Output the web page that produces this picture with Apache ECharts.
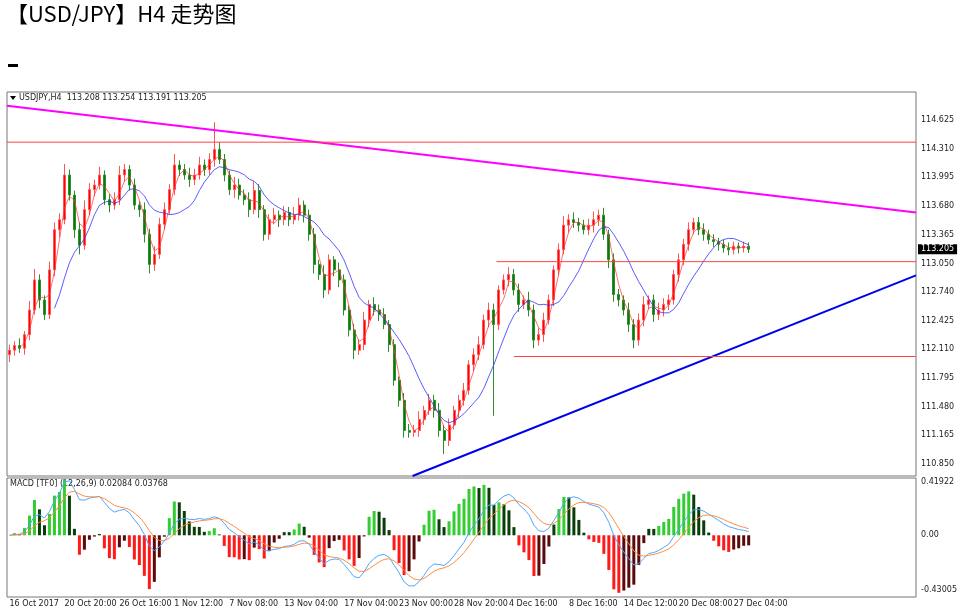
<!DOCTYPE html>
<html><head><meta charset="utf-8">
<script src="https://cdn.jsdelivr.net/npm/echarts@6/dist/echarts.min.js"></script>
<style>html,body{margin:0;padding:0;background:#fff}#c{width:962px;height:608px}</style>
</head><body><div id="c"></div>
<script>
const closes=[112.10,112.15,112.12,112.27,112.54,112.87,112.65,112.49,112.98,113.42,113.53,114.02,113.80,113.42,113.25,113.64,113.86,113.91,114.02,113.75,113.69,113.75,114.02,114.08,113.91,113.69,113.64,113.37,113.04,113.15,113.48,113.64,113.86,114.13,114.08,114.02,113.97,114.02,114.13,114.08,114.19,114.30,114.19,114.02,113.86,113.91,113.80,113.75,113.64,113.85,113.64,113.37,113.53,113.58,113.53,113.61,113.53,113.58,113.69,113.58,113.37,113.04,112.93,112.76,113.09,112.98,112.87,112.54,112.32,112.10,112.16,112.43,112.60,112.54,112.49,112.38,112.16,111.77,111.55,111.22,111.20,111.22,111.34,111.44,111.55,111.44,111.22,111.11,111.28,111.44,111.55,111.66,111.94,112.05,112.16,112.43,112.54,112.38,112.76,112.87,112.93,112.76,112.60,112.65,112.54,112.21,112.27,112.43,112.65,112.98,113.20,113.47,113.53,113.50,113.47,113.42,113.47,113.53,113.58,113.37,113.09,112.71,112.65,112.54,112.38,112.21,112.43,112.60,112.65,112.49,112.54,112.60,112.65,112.93,113.09,113.26,113.42,113.50,113.42,113.37,113.31,113.29,113.26,113.22,113.20,113.24,113.22,113.24,113.205];
const firstOpen=112.05;
const wickUp=[6,5,8,4,10,12,6,5,9,8,7,12,6,5,8,10,7,6,9,5,6,8,10,6,5,7,4,8,6,9,7,8,6,12,5,6,8,7,9,6,7,30,8,6,5,9,7,6,8,10,7,5,6,8,5,7,6,9,8,5,6,7,5,10,6,4,8,6,5,7,6,9,5,8,6,7,5,6,4,8,7,6,9,5,7,6,8,6,7,5,6,8,5,7,9,6,8,7,5,6,8,6,7,5,9,6,7,8,6,5,7,10,6,8,5,6,7,9,6,8,5,7,6,5,8,6,7,9,5,6,8,7,6,5,7,6,8,5,6,7,5,6,4,5,6,5,4,5,4];
const wickDn=[8,6,5,7,6,5,9,6,5,7,8,5,6,9,10,5,6,7,5,6,8,5,6,7,6,5,8,9,10,7,5,6,5,6,7,5,8,6,5,7,6,8,5,7,6,9,5,6,8,5,9,7,6,5,8,6,7,5,6,8,7,10,6,9,5,7,8,6,7,10,5,6,8,6,7,5,8,6,7,8,6,5,7,6,5,8,7,15,6,5,8,6,5,7,6,5,8,100,6,5,7,6,8,5,7,9,6,8,5,7,6,5,8,6,7,5,6,8,7,6,9,8,7,6,8,9,6,7,5,8,6,7,6,5,8,6,7,5,6,7,5,6,7,5,6,5,6,5,4];
const tickLabels=['16 Oct 2017','20 Oct 20:00','26 Oct 16:00','1 Nov 12:00','7 Nov 08:00','13 Nov 04:00','17 Nov 04:00','23 Nov 00:00','28 Nov 20:00','4 Dec 16:00','8 Dec 16:00','14 Dec 12:00','20 Dec 08:00','27 Dec 04:00'];
const tickIdx=[0,11,22,33,44,55,67,78,89,100,112,123,134,145];
const priceTicks=[110.850,111.165,111.480,111.795,112.110,112.425,112.740,113.050,113.365,113.680,113.995,114.310,114.625];
const magentaLine=[[-0.5,114.78],[181.5,113.61]];
const blueLine=[[80.7,110.72],[181.5,112.92]];
const redTop=[[-0.5,114.38],[181.5,114.38]];
const redMid=[[97.5,113.07],[181.5,113.07]];
const redLow=[[101,112.03],[181.5,112.03]];
const N=182;

const cats=[];for(let i=0;i<N;i++){const k=tickIdx.indexOf(i);cats.push(k>=0?tickLabels[k]:'');}
const ohlc=closes.map((c,i)=>{const o=i?closes[i-1]:firstOpen;return [o,c,Math.min(o,c)-(wickDn[i]||5)/100,Math.max(o,c)+(wickUp[i]||5)/100];});
function sma(a,p){return a.map((v,i)=>{if(i<p-1)return null;let s=0;for(let j=i-p+1;j<=i;j++)s+=a[j];return +(s/p).toFixed(4);});}
function ema(a,p){const k=2/(p+1);let e=a[0];return a.map(v=>(e=v*k+e*(1-k)));}
const e1=ema(closes,6),e2=ema(closes,13);
const dif=closes.map((v,i)=>e1[i]-e2[i]);
const dea=ema(dif,5);
const hist=dif.map((v,i)=>v-dea[i]);
const histData=hist.map((v,i)=>{const prev=i?hist[i-1]:0;const rising=Math.abs(v)>=Math.abs(prev);
 const col=v>=0?(rising?'#33cc33':'#0a3d0a'):(rising?'#ff1a1a':'#5a0a0a');return {value:+(v*3.5).toFixed(4),itemStyle:{color:col}};});

const ch=echarts.init(document.getElementById('c'));
const axisFont={fontFamily:'DejaVu Sans',fontSize:8,color:'#222'};
ch.setOption({
 animation:false,
 grid:[{left:7,right:46,top:92,height:384,show:true,borderColor:'#777',borderWidth:1},
       {left:7,right:46,top:478,height:119,show:true,borderColor:'#777',borderWidth:1}],
 xAxis:[
  {type:'category',gridIndex:0,data:cats,axisLine:{show:false},axisTick:{show:false},axisLabel:{show:false},splitLine:{show:false}},
  {type:'value',gridIndex:0,min:-0.5,max:181.5,show:false},
  {type:'category',gridIndex:1,data:cats,axisLine:{show:false},axisTick:{show:false},
   axisLabel:{interval:(i,v)=>v!=='',align:'left',margin:3,...axisFont},splitLine:{show:false}}
 ],
 yAxis:[
  {type:'value',gridIndex:0,position:'right',min:110.72,max:114.93,splitLine:{show:false},axisLine:{show:false},
   axisTick:{show:false},
   axisLabel:{customValues:priceTicks,formatter:v=>v.toFixed(3),margin:5,...axisFont}},
  {type:'value',gridIndex:1,position:'right',min:-0.485,max:0.45,splitLine:{show:false},axisLine:{show:false},
   axisTick:{show:false},
   axisLabel:{customValues:[-0.43005,0,0.41922],formatter:v=>v===0?'0.00':String(v),margin:5,...axisFont}}
 ],
 series:[
  {type:'candlestick',xAxisIndex:0,yAxisIndex:0,data:ohlc,barMaxWidth:3,
   itemStyle:{color:'#ff0000',color0:'#008000',borderColor:'#ff5555',borderColor0:'#2e8b2e',borderWidth:1}},
  {type:'line',xAxisIndex:0,yAxisIndex:0,data:sma(closes,3),symbol:'none',lineStyle:{color:'#ff3333',width:1,opacity:0.7}},
  {type:'line',xAxisIndex:0,yAxisIndex:0,data:sma(closes,10),symbol:'none',lineStyle:{color:'#3333ff',width:1,opacity:0.8}},
  {type:'line',xAxisIndex:1,yAxisIndex:0,data:magentaLine,symbol:'none',lineStyle:{color:'#ff00ff',width:2}},
  {type:'line',xAxisIndex:1,yAxisIndex:0,data:blueLine,symbol:'none',lineStyle:{color:'#0000ee',width:2}},
  {type:'line',xAxisIndex:1,yAxisIndex:0,data:redTop,symbol:'none',lineStyle:{color:'#ff4444',width:1}},
  {type:'line',xAxisIndex:1,yAxisIndex:0,data:redMid,symbol:'none',lineStyle:{color:'#ff4444',width:1}},
  {type:'line',xAxisIndex:1,yAxisIndex:0,data:redLow,symbol:'none',lineStyle:{color:'#ff4444',width:1}},
  {type:'bar',xAxisIndex:2,yAxisIndex:1,data:histData,barWidth:3},
  {type:'line',xAxisIndex:2,yAxisIndex:1,data:dif,symbol:'none',lineStyle:{color:'#4da6ff',width:1}},
  {type:'line',xAxisIndex:2,yAxisIndex:1,data:dea,symbol:'none',lineStyle:{color:'#ff8c40',width:1}}
 ]
});
const py=ch.convertToPixel({yAxisIndex:0},113.205);
ch.setOption({graphic:[
  {type:'text',left:6,top:3,style:{text:'【USD/JPY】H4 走势图',font:'22px "Noto Sans CJK SC"',fill:'#000'}},
  {type:'rect',shape:{x:8,y:64,width:10,height:3},style:{fill:'#000'}},
  {type:'polygon',shape:{points:[[10,96],[16,96],[13,100]]},style:{fill:'#000'}},
  {type:'text',left:19,top:94,style:{text:'USDJPY,H4  113.208 113.254 113.191 113.205',font:'8px "DejaVu Sans"',fill:'#222'}},
  {type:'text',left:10,top:480,style:{text:'MACD [TF0] (12,26,9) 0.02084 0.03768',font:'8px "DejaVu Sans"',fill:'#222'}},
  {type:'text',left:918,top:py-5,style:{text:'113.205',font:'8px "DejaVu Sans"',fill:'#fff',backgroundColor:'#000',padding:[1,3]}}
]});
</script></body></html>
